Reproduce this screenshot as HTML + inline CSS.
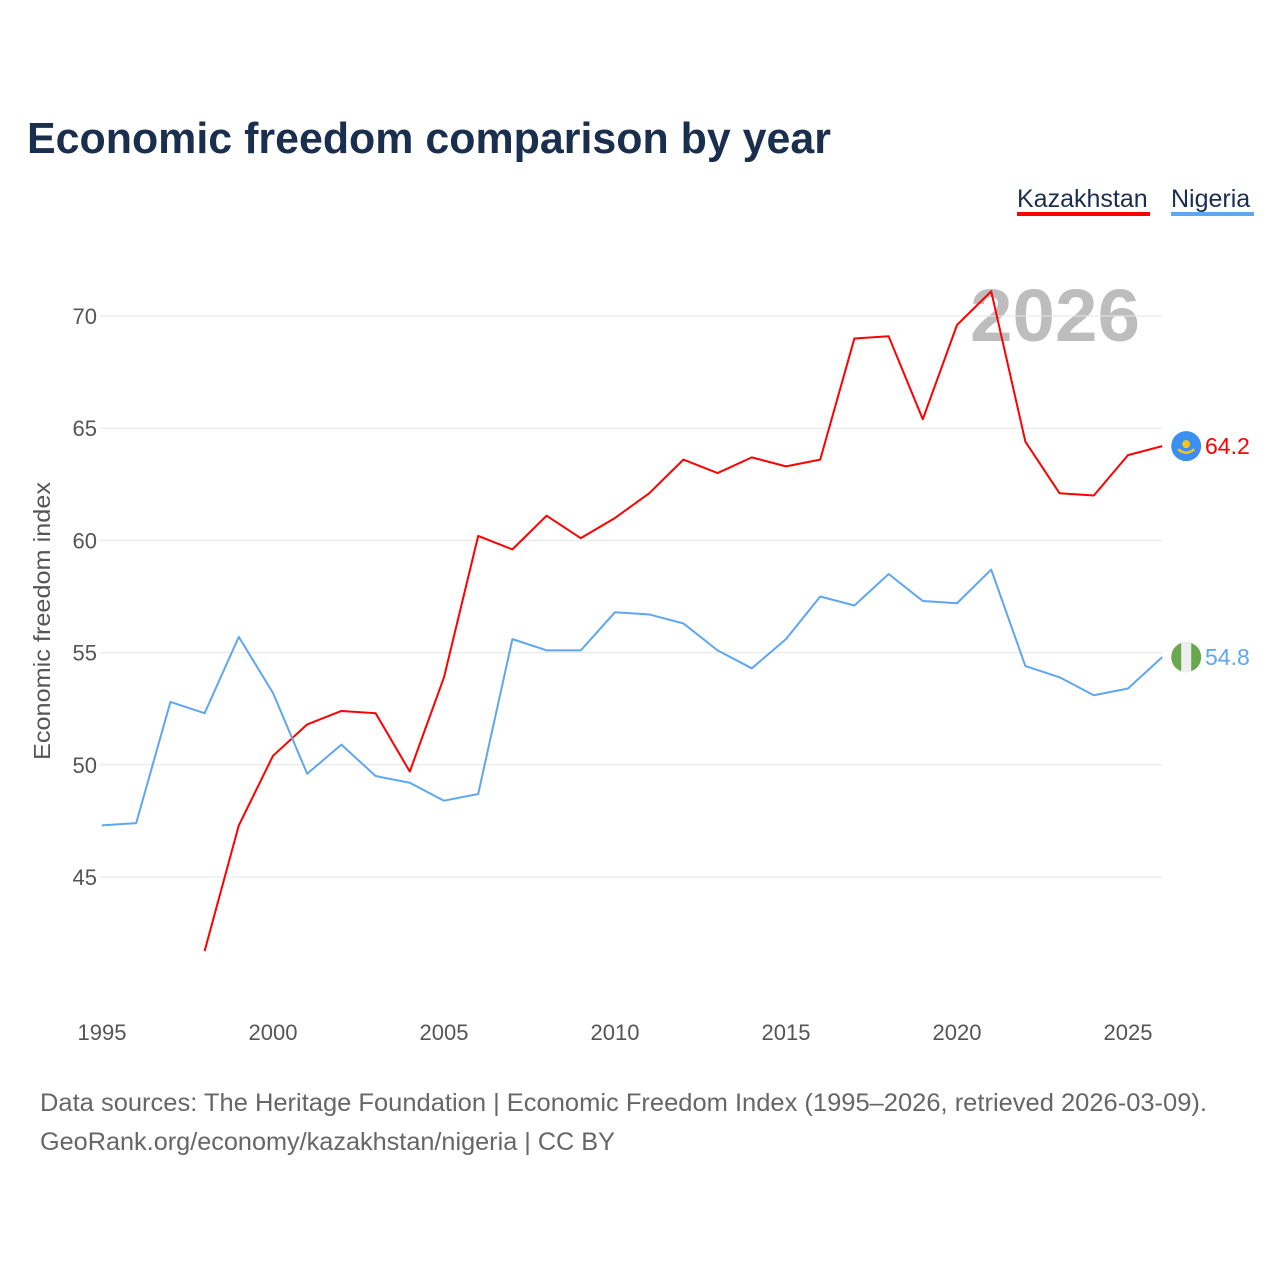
<!DOCTYPE html>
<html><head><meta charset="utf-8"><style>
body{margin:0;background:#fff;font-family:"Liberation Sans",sans-serif;}
svg text{font-family:"Liberation Sans",sans-serif;}
</style></head><body>
<svg width="1280" height="1280" id="chart">
<text x="27" y="153" font-size="44" font-weight="bold" fill="#1a2e4e" textLength="804" lengthAdjust="spacingAndGlyphs">Economic freedom comparison by year</text>
<g>
<text x="1017" y="207" font-size="25" fill="#1a2e4e">Kazakhstan</text>
<rect x="1017" y="212" width="133" height="4" fill="#ff0000"/>
<text x="1171" y="207" font-size="25" fill="#1a2e4e">Nigeria</text>
<rect x="1171" y="212" width="83" height="4" fill="#5ea6ef"/>
</g>
<text x="970" y="341" font-size="74" font-weight="bold" fill="#bdbdbd" textLength="170" lengthAdjust="spacingAndGlyphs">2026</text>
<g id="grid"></g><g id="lines"></g>
<text transform="translate(50,621) rotate(-90)" font-size="23" fill="#555" text-anchor="middle" textLength="278" lengthAdjust="spacingAndGlyphs">Economic freedom index</text>
<text x="40" y="1111" font-size="25" fill="#666" textLength="1167" lengthAdjust="spacingAndGlyphs">Data sources: The Heritage Foundation | Economic Freedom Index (1995–2026, retrieved 2026-03-09).</text>
<text x="40" y="1150" font-size="25" fill="#666" textLength="575" lengthAdjust="spacingAndGlyphs">GeoRank.org/economy/kazakhstan/nigeria | CC BY</text>
</svg>
<script>
const yTicks=[45,50,55,60,65,70];
const xTicks=[1995,2000,2005,2010,2015,2020,2025];
const kazYears=[1998,1999,2000,2001,2002,2003,2004,2005,2006,2007,2008,2009,2010,2011,2012,2013,2014,2015,2016,2017,2018,2019,2020,2021,2022,2023,2024,2025,2026];
const kazValues=[41.7,47.3,50.4,51.8,52.4,52.3,49.7,53.9,60.2,59.6,61.1,60.1,61.0,62.1,63.6,63.0,63.7,63.3,63.6,69.0,69.1,65.4,69.6,71.1,64.4,62.1,62.0,63.8,64.2];
const ngaYears=[1995,1996,1997,1998,1999,2000,2001,2002,2003,2004,2005,2006,2007,2008,2009,2010,2011,2012,2013,2014,2015,2016,2017,2018,2019,2020,2021,2022,2023,2024,2025,2026];
const ngaValues=[47.3,47.4,52.8,52.3,55.7,53.2,49.6,50.9,49.5,49.2,48.4,48.7,55.6,55.1,55.1,56.8,56.7,56.3,55.1,54.3,55.6,57.5,57.1,58.5,57.3,57.2,58.7,54.4,53.9,53.1,53.4,54.8];
const NS="http://www.w3.org/2000/svg";
const X=y=>102+(y-1995)*34.2;
const Y=v=>316+(70-v)*22.44;
const grid=document.getElementById('grid'),lines=document.getElementById('lines');
function mk(tag,attrs,parent){const e=document.createElementNS(NS,tag);for(const k in attrs)e.setAttribute(k,attrs[k]);parent.appendChild(e);return e;}
yTicks.forEach(t=>{
 const l=mk('line',{x1:100,x2:1162,y1:Y(t),y2:Y(t),stroke:'#e6e6e6','stroke-width':1},grid);
 
 
 const tx=mk('text',{x:97,y:Y(t)+8,'font-size':22,fill:'#555','text-anchor':'end'},grid);
 tx.textContent=t;
 
 
});
xTicks.forEach(t=>{
 const tx=mk('text',{x:X(t),y:1040,'font-size':22,fill:'#555','text-anchor':'middle'},grid);
 tx.textContent=t;
 
 
});
function series(years,vals,color,name){
 const p=mk('polyline',{points:years.map((y,i)=>X(y)+','+Y(vals[i])).join(' '),fill:'none',stroke:color,'stroke-width':2,'stroke-linejoin':'round'},lines);
 
 
 const ly=years[years.length-1],lv=vals[vals.length-1];
 const t=mk('text',{x:1205,y:Y(lv)+8,'font-size':23,fill:color},lines);
 t.textContent=lv.toFixed(1);
 
 
 return [X(ly)+24,Y(lv)];
}
const k=series(kazYears,kazValues,'#ff0000','kazakhstan');
const n=series(ngaYears,ngaValues,'#5ea6ef','nigeria');
const kf=mk('g',{},lines);


mk('circle',{cx:k[0],cy:k[1],r:15,fill:'#3a8ff0'},kf);
mk('circle',{cx:k[0],cy:k[1]-2,r:4,fill:'#f5c518'},kf);
mk('path',{d:`M${k[0]-8} ${k[1]+3} Q${k[0]} ${k[1]+10} ${k[0]+8} ${k[1]+3}`,stroke:'#f5c518','stroke-width':2.5,fill:'none'},kf);
const nf=mk('g',{},lines);


mk('circle',{cx:n[0],cy:n[1],r:15,fill:'#6aa84f'},nf);
mk('rect',{x:n[0]-5,y:n[1]-15,width:10,height:30,fill:'#eeeeee'},nf);
</script>
</body></html>
